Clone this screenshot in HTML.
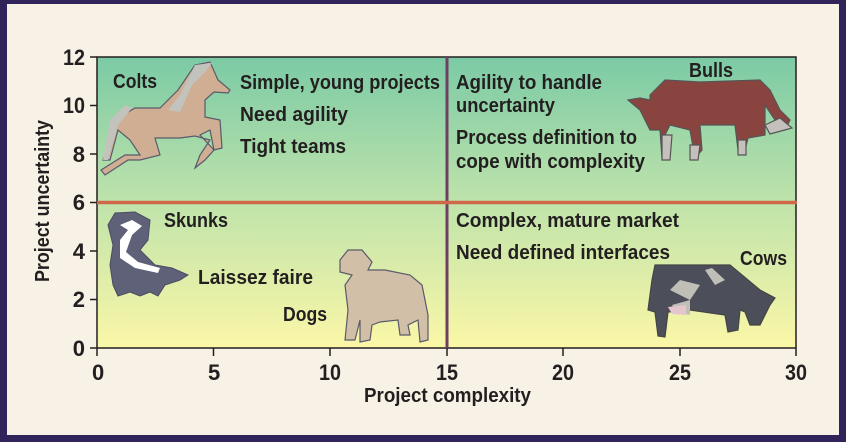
<!DOCTYPE html>
<html><head><meta charset="utf-8"><style>
html,body{margin:0;padding:0;background:#31245a}
svg{display:block}
text{font-family:"Liberation Sans Narrow","Liberation Sans",sans-serif;font-weight:bold;fill:#231f20}
</style></head><body>
<svg width="846" height="442" viewBox="0 0 846 442" xmlns="http://www.w3.org/2000/svg">
<defs>
<linearGradient id="g" x1="0" y1="0" x2="0" y2="1">
<stop offset="0" stop-color="#7bcaa5"/>
<stop offset="0.5" stop-color="#bfe3ab"/>
<stop offset="1" stop-color="#fbf7a7"/>
</linearGradient>
</defs>
<rect x="0" y="0" width="846" height="442" fill="#31245a"/>
<rect x="7" y="4" width="832" height="431" fill="#f8f1e5"/>
<rect x="97" y="57" width="699" height="291" fill="url(#g)" stroke="#231f20" stroke-width="1.5"/>
<g stroke="#231f20" stroke-width="1.5">
<line x1="90" y1="57" x2="97" y2="57"/><line x1="90" y1="105.5" x2="97" y2="105.5"/><line x1="90" y1="154" x2="97" y2="154"/><line x1="90" y1="202.5" x2="97" y2="202.5"/><line x1="90" y1="251" x2="97" y2="251"/><line x1="90" y1="299.5" x2="97" y2="299.5"/><line x1="90" y1="348" x2="97" y2="348"/>
<line x1="97" y1="348" x2="97" y2="356"/><line x1="213.5" y1="348" x2="213.5" y2="356"/><line x1="330" y1="348" x2="330" y2="356"/><line x1="447" y1="348" x2="447" y2="356"/><line x1="563" y1="348" x2="563" y2="356"/><line x1="680" y1="348" x2="680" y2="356"/><line x1="796" y1="348" x2="796" y2="356"/>
</g>
<line x1="447" y1="57" x2="447" y2="348" stroke="#6e3f63" stroke-width="3"/>
<line x1="97" y1="202.5" x2="797" y2="202.5" stroke="#cf6848" stroke-width="3.5"/>
<g font-size="22" text-anchor="end" lengthAdjust="spacingAndGlyphs">
<text x="85" y="65" textLength="22" lengthAdjust="spacingAndGlyphs">12</text><text x="85" y="113" textLength="22" lengthAdjust="spacingAndGlyphs">10</text><text x="85" y="162" textLength="11">8</text><text x="85" y="210" textLength="11">6</text><text x="85" y="259" textLength="11">4</text><text x="85" y="307" textLength="11">2</text><text x="85" y="356" textLength="11">0</text>
</g>
<g font-size="22">
<text x="92" y="380" textLength="11">0</text><text x="208" y="380" textLength="11">5</text><text x="319" y="380" textLength="22" lengthAdjust="spacingAndGlyphs">10</text><text x="436" y="380" textLength="22" lengthAdjust="spacingAndGlyphs">15</text><text x="552" y="380" textLength="22" lengthAdjust="spacingAndGlyphs">20</text><text x="669" y="380" textLength="22" lengthAdjust="spacingAndGlyphs">25</text><text x="785" y="380" textLength="22" lengthAdjust="spacingAndGlyphs">30</text>
</g>
<text x="364" y="402" font-size="20" textLength="167" lengthAdjust="spacingAndGlyphs">Project complexity</text>
<text transform="translate(49,282) rotate(-90)" font-size="20" textLength="162" lengthAdjust="spacingAndGlyphs">Project uncertainty</text>
<g font-size="20">
<text x="113" y="88" textLength="44" lengthAdjust="spacingAndGlyphs">Colts</text>
<text x="240" y="89" textLength="200" lengthAdjust="spacingAndGlyphs">Simple, young projects</text>
<text x="240" y="121" textLength="108" lengthAdjust="spacingAndGlyphs">Need agility</text>
<text x="240" y="153" textLength="106" lengthAdjust="spacingAndGlyphs">Tight teams</text>
<text x="456" y="89" textLength="146" lengthAdjust="spacingAndGlyphs">Agility to handle</text>
<text x="456" y="112" textLength="99" lengthAdjust="spacingAndGlyphs">uncertainty</text>
<text x="456" y="144" textLength="181" lengthAdjust="spacingAndGlyphs">Process definition to</text>
<text x="456" y="168" textLength="189" lengthAdjust="spacingAndGlyphs">cope with complexity</text>
<text x="689" y="77" textLength="44" lengthAdjust="spacingAndGlyphs">Bulls</text>
<text x="164" y="227" textLength="64" lengthAdjust="spacingAndGlyphs">Skunks</text>
<text x="198" y="284" textLength="115" lengthAdjust="spacingAndGlyphs">Laissez faire</text>
<text x="283" y="321" textLength="44" lengthAdjust="spacingAndGlyphs">Dogs</text>
<text x="456" y="227" textLength="223" lengthAdjust="spacingAndGlyphs">Complex, mature market</text>
<text x="456" y="259" textLength="214" lengthAdjust="spacingAndGlyphs">Need defined interfaces</text>
<text x="740" y="265" textLength="47" lengthAdjust="spacingAndGlyphs">Cows</text>
</g>
<g stroke="#5a5a6a" stroke-width="1.2">
<path d="M103 160 L118 118 L135 108 L160 108 L178 90 L195 65 L210 62 L218 80 L230 90 L228 93 L214 92 L205 100 L205 117 L220 120 L222 148 L214 150 L210 130 L200 135 L214 150 L205 160 L195 168 L200 155 L210 140 L195 136 L180 138 L155 138 L160 155 L140 160 L128 160 L105 175 L101 170 L125 155 L140 155 L130 140 L118 130 L110 160 Z" fill="#cfae93"/>
<path d="M103 160 L110 120 L125 105 L132 108 L118 125 L108 160 Z M180 95 L195 65 L212 63 L205 72 L192 85 L180 112 L168 110 Z" fill="#c3c3bd" stroke="none"/>
</g>
<g stroke="#555" stroke-width="1.2">
<path d="M650 95 L665 80 L700 82 L760 80 L770 90 L780 110 L790 120 L785 130 L775 120 L765 105 L765 135 L748 138 L745 150 L738 150 L735 125 L700 125 L702 150 L695 158 L690 130 L670 125 L665 135 L670 155 L662 158 L660 130 L650 130 L645 120 L640 110 L628 100 L640 98 L650 100 Z" fill="#8a4440"/>
<path d="M765 125 L780 118 L792 128 L770 134 Z M662 135 L672 135 L670 160 L662 160 Z M738 140 L746 140 L746 155 L738 155 Z M690 145 L700 145 L698 160 L690 160 Z" fill="#c4c0bb"/>
</g>
<g>
<path d="M113 245 L108 225 L115 213 L135 212 L150 220 L148 240 L140 250 L155 265 L172 268 L188 275 L180 280 L165 285 L158 296 L150 292 L140 296 L130 292 L118 296 L113 285 L110 265 Z" fill="#5f6179" stroke="#4a4c60"/>
<path d="M120 225 L132 220 L142 226 L132 235 L126 252 L138 262 L160 268 L158 273 L135 268 L120 258 L120 240 L128 230 Z" fill="#fff"/>
</g>
<g stroke="#5a5a6a" stroke-width="1.2">
<path d="M340 260 L348 250 L362 250 L372 262 L368 270 L385 270 L410 275 L422 285 L428 315 L428 340 L420 342 L418 320 L408 325 L410 335 L400 335 L398 320 L380 322 L372 325 L370 340 L360 342 L360 320 L355 340 L345 340 L348 310 L345 285 L352 275 L340 272 Z" fill="#d2bfa8"/>
</g>
<g stroke="#444" stroke-width="1.2">
<path d="M655 265 L730 265 L760 290 L775 298 L770 305 L760 325 L750 325 L745 312 L740 310 L738 330 L728 332 L725 315 L690 310 L668 312 L665 337 L658 336 L655 312 L648 310 L652 280 Z" fill="#4c4f5a"/>
<path d="M670 290 L690 300 L700 285 L680 280 Z M705 270 L715 285 L725 280 L712 268 Z M672 305 L690 300 L690 315 L675 312 Z" fill="#bfbfb8" stroke="none"/>
<path d="M668 307 L686 305 L686 315 L672 314 Z" fill="#e6c6ce" stroke="none"/>
</g>
</svg>
</body></html>
